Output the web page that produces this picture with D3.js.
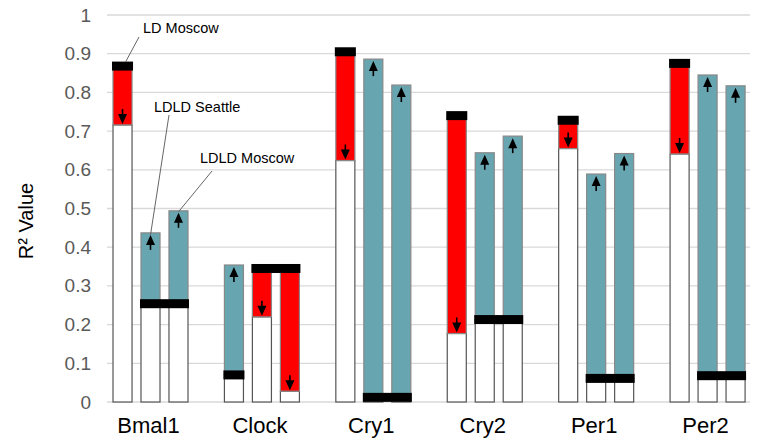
<!DOCTYPE html>
<html>
<head>
<meta charset="utf-8">
<script src="https://cdn.jsdelivr.net/npm/d3@7"></script>
<style>
    body { margin: 0; background: #fff; }
    text { font-family: "Liberation Sans", Arial, sans-serif; }
</style>
</head>
<body>
<svg id="chart" width="757" height="444"></svg>
<script>
// values
var genes = ["Bmal1", "Clock", "Cry1", "Cry2", "Per1", "Per2"];
var series = ["LD Moscow", "LDLD Seattle", "LDLD Moscow"];
var ldMoscowFrom = [0.868, 0.070, 0.905, 0.740, 0.728, 0.875];
var ldMoscowTo = [0.716, 0.354, 0.624, 0.177, 0.655, 0.641];
var ldldFrom = [0.254, 0.345, 0.012, 0.213, 0.061, 0.068];
var ldldSeattleTo = [0.437, 0.220, 0.886, 0.644, 0.589, 0.845];
var ldldMoscowTo = [0.494, 0.028, 0.819, 0.687, 0.642, 0.817];
var yTicks = [0, 0.1, 0.2, 0.3, 0.4, 0.5, 0.6, 0.7, 0.8, 0.9, 1];

var teal = "#67a6b0";
var red = "#ff0000";

var svg = d3.select("#chart");

var y = d3.scaleLinear().domain([0, 1]).range([402, 15]);
var x = d3.scaleBand().domain(genes).range([95, 763.5]);
var sub = d3.scaleBand().domain([0, 1, 2]).range([18, 93]).paddingInner(0.32);
var bw = sub.bandwidth();

// gridlines
svg.append("g").selectAll("line").data(yTicks)
    .enter().append("line")
    .attr("x1", 107).attr("x2", 750)
    .attr("y1", d => y(d)).attr("y2", d => y(d))
    .attr("stroke", "#d9d9d9").attr("stroke-width", 1.3);

// y axis labels
var yAxis = d3.axisLeft(y).tickValues(yTicks).tickSize(0).tickPadding(0)
    .tickFormat(d => d3.format("")(d));
svg.append("g").attr("transform", "translate(91,0)").call(yAxis)
    .call(g => g.select(".domain").remove())
    .selectAll("text")
    .attr("fill", "#595959")
    .style("font-size", "19px")
    .style("font-family", "'Liberation Sans', Arial, sans-serif");

svg.append("text")
    .attr("transform", "translate(33,221) rotate(-90)")
    .attr("text-anchor", "middle")
    .style("font-size", "20px")
    .text("R² Value");

// build the bar list
var bars = [];
genes.forEach((g, i) => {
    bars.push({gene: g, s: 0, from: ldMoscowFrom[i], to: ldMoscowTo[i]});
    bars.push({gene: g, s: 1, from: ldldFrom[i], to: ldldSeattleTo[i]});
    bars.push({gene: g, s: 2, from: ldldFrom[i], to: ldldMoscowTo[i]});
});
bars.forEach(b => { b.x = x(b.gene) + sub(b.s); });

var barG = svg.append("g");

// white part
barG.selectAll(".white").data(bars)
    .enter().append("rect")
    .attr("class", "white")
    .attr("x", d => d.x).attr("width", bw)
    .attr("y", d => y(Math.min(d.from, d.to)))
    .attr("height", d => y(0) - y(Math.min(d.from, d.to)))
    .attr("fill", "#fff").attr("stroke", "#555").attr("stroke-width", 1.2);

// coloured part
barG.selectAll(".change").data(bars)
    .enter().append("rect")
    .attr("class", "change")
    .attr("x", d => d.x).attr("width", bw)
    .attr("y", d => y(Math.max(d.from, d.to)))
    .attr("height", d => y(Math.min(d.from, d.to)) - y(Math.max(d.from, d.to)))
    .attr("fill", d => d.to > d.from ? teal : red)
    .attr("stroke", "#888").attr("stroke-width", 1.2);

// black bands at the starting value
barG.selectAll(".band1").data(bars.filter(b => b.s === 0))
    .enter().append("rect")
    .attr("x", d => d.x - 1).attr("width", bw + 2)
    .attr("y", d => y(d.from) - 4.5).attr("height", 9)
    .attr("fill", "#000");
// LDLD bars share one band
barG.selectAll(".band2").data(bars.filter(b => b.s === 1))
    .enter().append("rect")
    .attr("x", d => d.x - 1).attr("width", sub(2) - sub(1) + bw + 2)
    .attr("y", d => y(d.from) - 4.5).attr("height", 9)
    .attr("fill", "#000");

// arrows at the end value
var arrows = barG.selectAll(".arrow").data(bars)
    .enter().append("g")
    .attr("transform", d => {
        var cx = d.x + bw / 2;
        return d.to > d.from
            ? `translate(${cx},${y(d.to) + 2})`
            : `translate(${cx},${y(d.to) - 1}) scale(1,-1)`;
    });
arrows.append("path")
    .attr("d", "M0,0 L4.5,10 L-4.5,10 Z")
    .attr("fill", "#000");
arrows.append("line")
    .attr("x1", 0).attr("x2", 0).attr("y1", 9).attr("y2", 15)
    .attr("stroke", "#000").attr("stroke-width", 1.6);

// category labels
svg.append("g").selectAll("text").data(genes)
    .enter().append("text")
    .attr("x", d => x(d) + sub(1) + bw / 2 - 2)
    .attr("y", 433)
    .attr("text-anchor", "middle")
    .style("font-size", "22px")
    .text(d => d);

// callouts for the first group
var callouts = [
    {label: series[0], tx: 143, ty: 33, lx: 139, ly: 37, bar: bars[0], top: y(bars[0].from) - 4},
    {label: series[1], tx: 154, ty: 112, lx: 169, ly: 115, bar: bars[1], top: y(bars[1].to) + 2},
    {label: series[2], tx: 200, ty: 163, lx: 212, ly: 171, bar: bars[2], top: y(bars[2].to) + 1}
];
var cg = svg.append("g");
cg.selectAll("line").data(callouts)
    .enter().append("line")
    .attr("x1", d => d.lx).attr("y1", d => d.ly)
    .attr("x2", d => d.bar.x + bw / 2 + (d.bar.s === 0 ? 3 : 0)).attr("y2", d => d.top)
    .attr("stroke", "#666").attr("stroke-width", 1);
cg.selectAll("text").data(callouts)
    .enter().append("text")
    .attr("x", d => d.tx).attr("y", d => d.ty)
    .style("font-size", "14.5px")
    .text(d => d.label);
</script>
</body>
</html>
